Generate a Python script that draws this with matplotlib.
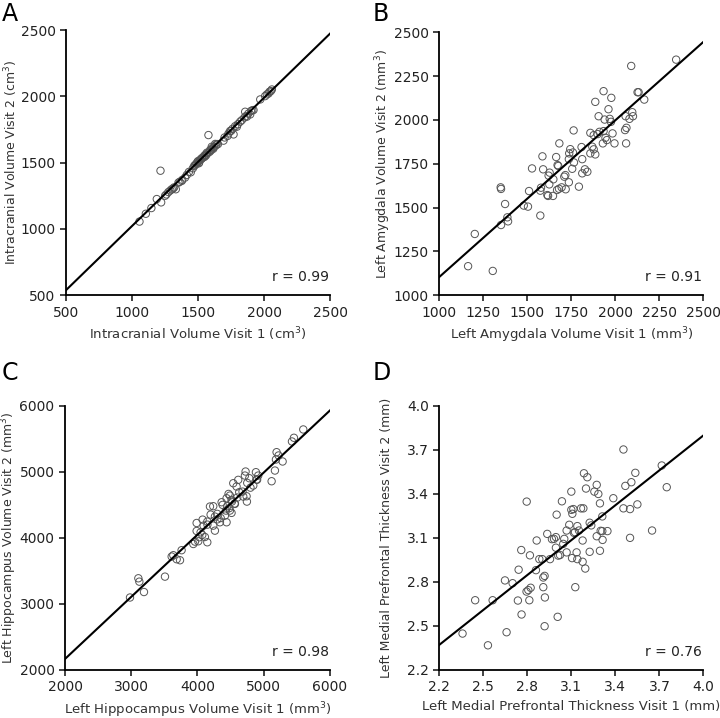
import numpy as np
import matplotlib.pyplot as plt

plt.rcParams['font.family'] = 'DejaVu Sans'

# A: intracranial volume (cm3)
icv_v1 = [1056, 1104, 1146, 1187, 1220, 1215, 1250, 1275, 1300, 1331, 1318, 1351, 1376,
          1401, 1414, 1444, 1460, 1477, 1490, 1508, 1528, 1545, 1566, 1578, 1591, 1603,
          1629, 1692, 1722, 1742, 1768, 1793, 1818, 1856, 1869, 1894, 1919, 1970, 2007,
          2033, 2058, 1470, 1485, 1495, 1500, 1505, 1515, 1520, 1530, 1540, 1550, 1555,
          1560, 1570, 1585, 1595, 1600, 1610, 1615, 1620, 1635, 1640, 1650, 1700, 1730,
          1750, 1760, 1780, 1800, 1830, 1850, 1860, 1880, 1900, 1910, 2020, 2040, 2050,
          1430, 1380, 1360, 1290, 1310, 1260]
icv_v2 = [1055, 1114, 1157, 1225, 1200, 1439, 1250, 1278, 1299, 1299, 1313, 1349, 1362,
          1387, 1407, 1427, 1457, 1482, 1495, 1502, 1532, 1550, 1575, 1708, 1595, 1620,
          1641, 1666, 1701, 1739, 1713, 1771, 1809, 1884, 1847, 1864, 1897, 1977, 2002,
          2022, 2052, 1475, 1490, 1505, 1512, 1495, 1520, 1525, 1535, 1540, 1545, 1560,
          1555, 1570, 1580, 1590, 1600, 1610, 1605, 1620, 1630, 1640, 1640, 1690, 1720,
          1740, 1755, 1775, 1790, 1820, 1840, 1850, 1870, 1890, 1895, 2015, 2035, 2040,
          1430, 1370, 1355, 1290, 1305, 1260]

# B: left amygdala volume (mm3)
amy_v1 = [2345, 2090, 1933, 2126, 2132, 1977, 2164, 1886, 1961, 1905, 2096, 2058, 2100,
          2080, 1939, 1968, 1975, 1763, 2063, 2055, 1858, 1910, 1933, 1877, 1899, 1984,
          1944, 1952, 1929, 1995, 2061, 1682, 1808, 1869, 1877, 1744, 1738, 1759, 1858,
          1886, 1586, 1664, 1736, 1812, 1765, 1672, 1676, 1527, 1590, 1755, 1827, 1841,
          1812, 1627, 1621, 1716, 1648, 1710, 1736, 1625, 1578, 1680, 1695, 1718, 1793,
          1669, 1574, 1510, 1349, 1351, 1374, 1614, 1618, 1646, 1480, 1504, 1574, 1387,
          1391, 1351, 1202, 1164, 1304]
amy_v2 = [2344, 2308, 2164, 2158, 2158, 2126, 2116, 2103, 2061, 2021, 2044, 2021, 2021,
          2006, 2002, 2006, 1989, 1940, 1955, 1942, 1926, 1932, 1936, 1913, 1919, 1923,
          1898, 1885, 1866, 1866, 1866, 1866, 1845, 1847, 1832, 1833, 1809, 1814, 1809,
          1803, 1792, 1788, 1776, 1776, 1757, 1742, 1737, 1723, 1718, 1721, 1718, 1704,
          1695, 1699, 1682, 1685, 1661, 1676, 1644, 1632, 1613, 1607, 1615, 1604, 1619,
          1600, 1596, 1594, 1615, 1606, 1520, 1571, 1566, 1566, 1511, 1505, 1454, 1444,
          1421, 1400, 1349, 1165, 1138]

# C: left hippocampus volume (mm3)
hip_v1 = [5597, 5456, 5426, 5194, 5224, 5184, 5285, 5169, 5119, 4726, 4882, 4917, 4892,
          4782, 4716, 4842, 4751, 4615, 4540, 4590, 4741, 4746, 4630, 4691, 4469, 4489,
          4514, 4439, 4565, 4364, 4238, 4188, 4379, 4489, 4429, 4514, 4298, 4198, 4263,
          4339, 4439, 4414, 4077, 4148, 3987, 4238, 4263, 4092, 3987, 4047, 4112, 4072,
          4027, 4148, 4012, 3937, 3962, 3760, 3635, 3610, 3686, 3736, 3509, 3107, 3122,
          3192, 2981, 4450, 4520, 4600, 4680, 4800, 4350, 4300, 4150, 4480, 4560, 4900]
hip_v2 = [5641, 5515, 5459, 5297, 5247, 5186, 5156, 5019, 4857, 5004, 4994, 4943, 4883,
          4903, 4943, 4792, 4832, 4878, 4827, 4777, 4630, 4549, 4691, 4625, 4665, 4640,
          4575, 4600, 4514, 4539, 4479, 4474, 4499, 4413, 4413, 4378, 4363, 4352, 4322,
          4236, 4236, 4337, 4276, 4246, 4225, 4185, 4109, 4185, 4104, 4084, 4013, 4044,
          4009, 3933, 3948, 3907, 3943, 3813, 3737, 3717, 3676, 3661, 3413, 3388, 3337,
          3180, 3097, 4480, 4550, 4610, 4700, 4760, 4300, 4280, 4200, 4450, 4520, 4880]

# D: left medial prefrontal thickness (mm)
mpf_v1 = [3.455, 3.716, 3.186, 3.536, 3.209, 3.273, 3.750, 3.509, 3.468, 3.200, 3.257,
          3.284, 3.100, 3.386, 2.796, 3.036, 3.295, 3.550, 3.455, 3.500, 3.100, 3.114,
          3.107, 3.166, 3.182, 3.000, 3.311, 3.225, 3.236, 3.086, 3.068, 3.141, 3.125,
          3.152, 3.346, 3.300, 3.311, 3.650, 3.118, 2.936, 3.273, 3.313, 3.500, 2.995,
          2.982, 2.968, 3.052, 2.864, 3.177, 3.045, 2.995, 3.068, 3.136, 3.295, 3.225,
          2.759, 2.818, 3.011, 3.023, 2.882, 2.902, 2.955, 3.105, 3.141, 3.177, 3.195,
          2.859, 2.741, 2.648, 2.700, 2.918, 2.909, 3.127, 2.823, 2.807, 2.795, 2.909,
          2.920, 2.736, 2.814, 2.445, 2.564, 2.761, 3.007, 2.918, 2.659, 2.359, 2.532]
mpf_v2 = [3.702, 3.593, 3.540, 3.543, 3.513, 3.461, 3.445, 3.479, 3.454, 3.436, 3.415,
          3.399, 3.415, 3.370, 3.347, 3.349, 3.335, 3.328, 3.301, 3.296, 3.291, 3.296,
          3.264, 3.301, 3.301, 3.258, 3.246, 3.203, 3.185, 3.189, 3.150, 3.180, 3.139,
          3.150, 3.146, 3.148, 3.146, 3.150, 3.134, 3.127, 3.111, 3.086, 3.100, 3.105,
          3.093, 3.091, 3.093, 3.082, 3.082, 3.059, 3.033, 3.001, 3.001, 3.012, 3.005,
          3.017, 2.981, 2.979, 2.983, 2.955, 2.955, 2.955, 2.962, 2.955, 2.937, 2.891,
          2.880, 2.883, 2.810, 2.791, 2.841, 2.830, 2.764, 2.760, 2.744, 2.734, 2.764,
          2.694, 2.673, 2.675, 2.675, 2.675, 2.578, 2.562, 2.498, 2.457, 2.448, 2.368]

# regression lines (slope, intercept)
fits = [(0.969, 53), (0.895, 208), (0.9405, 286), (0.793, 0.626)]
r_vals = ['0.99', '0.91', '0.98', '0.76']
letters = ['A', 'B', 'C', 'D']
xlabels = ['Intracranial Volume Visit 1 (cm$^3$)', 'Left Amygdala Volume Visit 1 (mm$^3$)',
           'Left Hippocampus Volume Visit 1 (mm$^3$)', 'Left Medial Prefrontal Thickness Visit 1 (mm)']
ylabels = ['Intracranial Volume Visit 2 (cm$^3$)', 'Left Amygdala Volume Visit 2 (mm$^3$)',
           'Left Hippocampus Volume Visit 2 (mm$^3$)', 'Left Medial Prefrontal Thickness Visit 2 (mm)']
ticks = [np.arange(500, 2501, 500), np.arange(1000, 2501, 250),
         np.arange(2000, 6001, 1000), np.arange(2.2, 4.01, 0.3)]
data = [(icv_v1, icv_v2), (amy_v1, amy_v2), (hip_v1, hip_v2), (mpf_v1, mpf_v2)]

fig = plt.figure(figsize=(7.2, 7.18), dpi=100)
rects = [[0.0917, 0.589, 0.367, 0.369], [0.610, 0.589, 0.367, 0.366],
         [0.0903, 0.0669, 0.368, 0.368], [0.610, 0.0669, 0.367, 0.368]]
letter_pos = [(0.002, 0.997), (0.517, 0.997), (0.002, 0.497), (0.517, 0.497)]

for i in range(4):
    ax = fig.add_axes(rects[i])
    x, y = data[i]
    t = ticks[i]
    ax.scatter(x, y, s=28, facecolors='none', edgecolors='#555555', linewidths=0.7, zorder=3)
    m, b = fits[i]
    xx = np.array([t[0], t[-1]])
    ax.plot(xx, m * xx + b, color='black', lw=1.5, zorder=4)
    ax.set_xlim(t[0], t[-1])
    ax.set_ylim(t[0], t[-1])
    ax.set_xticks(t)
    ax.set_yticks(t)
    if i == 3:
        ax.set_xticklabels(['%.1f' % v for v in t])
        ax.set_yticklabels(['%.1f' % v for v in t])
    for s in ['top', 'right']:
        ax.spines[s].set_visible(False)
    for s in ['left', 'bottom']:
        ax.spines[s].set_linewidth(1.3)
    ax.tick_params(direction='out', length=4, width=1.2, labelsize=10, colors='#222222')
    ax.set_xlabel(xlabels[i], fontsize=9.5, color='#333333', labelpad=4)
    ax.set_ylabel(ylabels[i], fontsize=9, color='#333333')
    ax.yaxis.set_label_coords(-0.175, 0.5)
    ax.text(0.995, 0.068, 'r = ' + r_vals[i], transform=ax.transAxes,
            ha='right', va='center', fontsize=10, color='#222222')
    fig.text(letter_pos[i][0], letter_pos[i][1], letters[i], fontsize=17,
             ha='left', va='top', color='black')

fig.savefig('out.png', dpi=100)
